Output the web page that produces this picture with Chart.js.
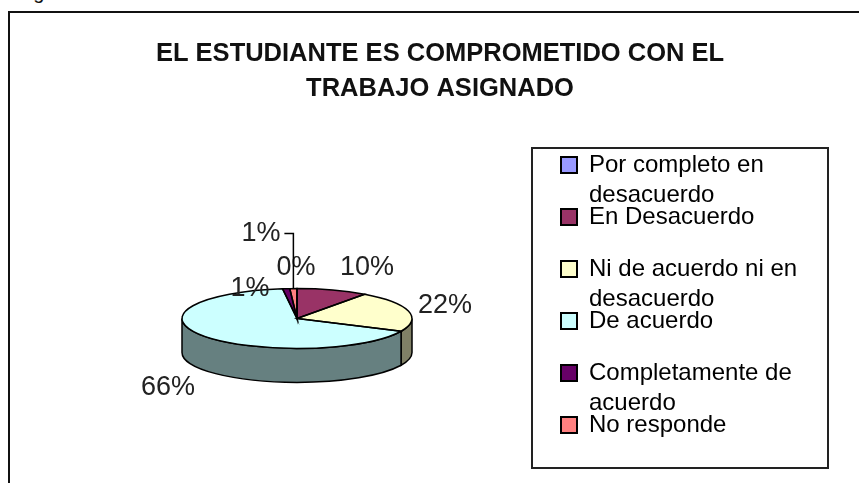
<!DOCTYPE html>
<html>
<head>
<meta charset="utf-8">
<script src="https://cdn.jsdelivr.net/npm/chart.js@4"></script>
<style>
  html, body { margin: 0; padding: 0; background: #fff; overflow: hidden; }
  #frame { position: absolute; left: 8px; top: 11px; width: 870px; height: 490px; border: 2px solid #111; overflow: hidden; }
  #legendBox { position: absolute; left: 521px; top: 134px; width: 294px; height: 318px; border: 2px solid #222; }
  canvas { position: absolute; left: 0; top: 0; }
  #clipped { position: absolute; left: 0; top: -18px; font: 20px/20px "Liberation Sans", Arial, sans-serif; color: #111; }
</style>
</head>
<body>
<div id="clipped">Imagen</div>
<div id="frame">
  <div id="legendBox"></div>
  <canvas id="myPie" width="860" height="480"></canvas>
</div>
<script>
var categories = [
  ['Por completo en', 'desacuerdo'],
  ['En Desacuerdo', ''],
  ['Ni de acuerdo ni en', 'desacuerdo'],
  ['De acuerdo', ''],
  ['Completamente de', 'acuerdo'],
  ['No responde', '']
];
var values = [0, 10, 22, 66, 1, 1];
var faceColors = ['#9999ff', '#993366', '#ffffcc', '#ccffff', '#660066', '#ff8080'];
var wallColors = ['#666699', '#662244', '#808066', '#668080', '#440044', '#995050'];
var titleLines = ['EL ESTUDIANTE ES COMPROMETIDO CON EL', 'TRABAJO ASIGNADO'];

// label centres, relative to the pie centre
var labelOffsets = [[-1, -51], [70, -51], [148, -13], [-129, 69], [-47, -30], [-36, -85]];

var squash = 0.26;
var depth = 34;

function drawWalls(ctx, arcs) {
  arcs.forEach(function (el, i) {
    var a0 = Math.max(el.startAngle, 0);
    var a1 = Math.min(el.endAngle, Math.PI);
    if (a1 <= a0) return;
    var r = el.outerRadius;
    ctx.beginPath();
    ctx.ellipse(el.x, el.y, r, r * squash, 0, a0, a1);
    ctx.ellipse(el.x, el.y + depth, r, r * squash, 0, a1, a0, true);
    ctx.closePath();
    ctx.fillStyle = wallColors[i];
    ctx.fill();
    ctx.stroke();
  });
}

var fakePie = {
  id: 'fakePie',
  afterLayout: function (chart) {
    // the legend sits in its own box, away from the pie
    var lg = chart.legend;
    lg.left = 559; lg.right = 860; lg.top = 148; lg.bottom = 480;
    // negative label padding would get cut by the legend's own clip
    lg.draw = function () { lg._draw(); };
    // title is centred on the whole frame, not on the pie side
    chart.titleBlock.left = 0;
    chart.titleBlock.right = 860;
  },
  beforeDatasetsDraw: function (chart) {
    var ctx = chart.ctx;
    var arcs = chart.getDatasetMeta(0).data;
    ctx.save();
    ctx.strokeStyle = '#000';
    ctx.lineWidth = 1.5;
    drawWalls(ctx, arcs);
    ctx.restore();
    ctx.save();
    ctx.translate(arcs[0].x, arcs[0].y);
    ctx.scale(1, squash);
    ctx.translate(-arcs[0].x, -arcs[0].y);
  },
  afterDatasetsDraw: function (chart) {
    var ctx = chart.ctx;
    ctx.restore();
    var arcs = chart.getDatasetMeta(0).data;
    ctx.save();
    ctx.strokeStyle = '#000';
    ctx.lineWidth = 1.5;
    arcs.forEach(function (el) {
      var r = el.outerRadius;
      ctx.beginPath();
      ctx.moveTo(el.x, el.y);
      ctx.ellipse(el.x, el.y, r, r * squash, 0, el.startAngle, el.endAngle);
      ctx.closePath();
      ctx.stroke();
    });

    ctx.font = '27px "Liberation Sans", Arial, sans-serif';
    ctx.fillStyle = '#222';
    ctx.textAlign = 'center';
    ctx.textBaseline = 'middle';
    arcs.forEach(function (el, i) {
      ctx.fillText(values[i] + '%', el.x + labelOffsets[i][0], el.y + labelOffsets[i][1]);
    });

    // leader line of the last slice
    var last = arcs[arcs.length - 1];
    var midX = last.x + last.outerRadius * Math.cos((last.startAngle + last.endAngle) / 2);
    var topY = last.y + labelOffsets[5][1];
    ctx.lineWidth = 1.5;
    ctx.beginPath();
    ctx.moveTo(midX - 9, topY);
    ctx.lineTo(midX, topY);
    ctx.lineTo(midX, last.y - last.outerRadius * squash);
    ctx.stroke();
    ctx.restore();
  }
};

new Chart(document.getElementById('myPie').getContext('2d'), {
  type: 'pie',
  data: {
    labels: categories,
    datasets: [{
      data: values,
      backgroundColor: faceColors,
      borderWidth: 0,
      radius: 115
    }]
  },
  options: {
    responsive: false,
    animation: false,
    layout: { padding: { left: 0, right: 286, top: 0, bottom: 0 } },
    plugins: {
      tooltip: { enabled: false },
      title: {
        display: true,
        text: titleLines,
        color: '#111',
        font: { family: '"Liberation Sans", Arial, sans-serif', size: 25.5, weight: 'bold', lineHeight: '35px' },
        padding: { top: 23, bottom: 38 }
      },
      legend: {
        position: 'chartArea',
        align: 'start',
        labels: {
          color: '#222',
          boxWidth: 16,
          boxHeight: 16,
          padding: -8,
          font: { family: '"Liberation Sans", Arial, sans-serif', size: 24, lineHeight: '30px' },
          generateLabels: function (chart) {
            return categories.map(function (c, i) {
              return { text: c, fillStyle: faceColors[i], strokeStyle: '#000', lineWidth: 2, index: i };
            });
          }
        }
      }
    }
  },
  plugins: [fakePie]
});
</script>
</body>
</html>
